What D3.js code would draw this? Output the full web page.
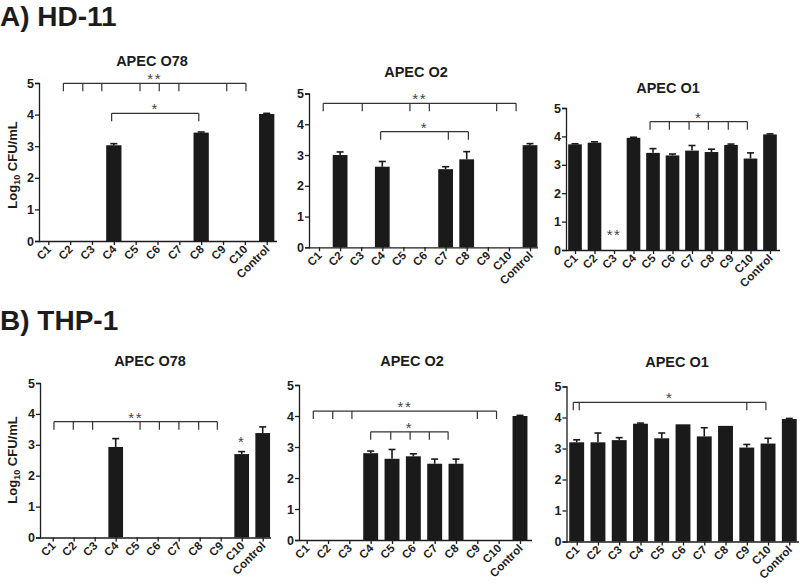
<!DOCTYPE html>
<html><head><meta charset="utf-8">
<script src="https://cdn.jsdelivr.net/npm/d3@7"></script>
<style>body{margin:0;background:#fff}</style>
</head><body><svg id="c" width="800" height="586"></svg>
<script>
// ---------- DATA ----------
const categories = ["C1","C2","C3","C4","C5","C6","C7","C8","C9","C10","Control"];
const yTicks = [0,1,2,3,4,5];
const sectionTitles = ["A) HD-11","B) THP-1"];
const panelTitles = ["APEC O78","APEC O2","APEC O1","APEC O78","APEC O2","APEC O1"];
const yAxisLabel = ["Log", "10", " CFU/mL"];

// means (Log10 CFU/mL) and SEM
const hd11_O78     = [0,0,0,3.03,0,0,0,3.43,0,0,4.02];
const hd11_O78_err = [0,0,0,0.05,0,0,0,0.02,0,0,0.02];
const hd11_O2      = [0,3.0,0,2.62,0,0,2.54,2.86,0,0,3.32];
const hd11_O2_err  = [0,0.1,0,0.17,0,0,0.08,0.25,0,0,0.05];
const hd11_O1      = [3.72,3.78,0,3.95,3.42,3.33,3.5,3.45,3.7,3.22,4.07];
const hd11_O1_err  = [0.02,0.03,0,0.02,0.15,0.05,0.18,0.1,0.03,0.2,0.02];
const thp1_O78     = [0,0,0,2.93,0,0,0,0,0,2.7,3.38];
const thp1_O78_err = [0,0,0,0.27,0,0,0,0,0,0.08,0.2];
const thp1_O2      = [0,0,0,2.8,2.62,2.7,2.46,2.46,0,0,4.0];
const thp1_O2_err  = [0,0,0,0.07,0.3,0.08,0.15,0.15,0,0,0.02];
const thp1_O1      = [3.2,3.2,3.27,3.8,3.33,3.78,3.39,3.73,3.03,3.16,3.95];
const thp1_O1_err  = [0.08,0.3,0.08,0.02,0.17,0,0.28,0,0.1,0.17,0.02];

// significance brackets: label, level (Log10 units), tick positions (category index units)
const hd11_O78_sig = [["**",4.99,[0.69,1.58,2.45,4.2,5.08,5.98,8.17,9.05]],["*",4.04,[2.9,6.89]]];
const hd11_O2_sig  = [["**",4.68,[0.2,2.05,4.31,5.23,8.42,9.34]],["*",3.76,[2.92,6.13,7.08]]];
const hd11_O1_sig  = [["*",4.52,[3.85,4.84,5.85,6.84,7.86,8.84]]];
const thp1_O78_sig = [["**",3.75,[0.06,0.98,1.9,4.16,5.08,6.01,6.95,7.84]]];
const thp1_O2_sig  = [["**",4.16,[0.31,1.22,2.12,8.0,8.9]],["*",3.49,[3.0,3.94,4.85,5.75,6.63]]];
const thp1_O1_sig  = [["*",4.49,[-0.16,0.12,8.0,8.9]]];
// lone significance marks: label, category index, level
const hd11_O1_marks  = [["**",2,0.61]];
const thp1_O78_marks = [["*",9,3.16]];

// ---------- LAYOUT ----------
const svg = d3.select("#c");
const FONT = "Liberation Sans, Arial, sans-serif";
const INK = "#1c1c1c";

svg.append("text").attr("x",0).attr("y",26).text(sectionTitles[0])
  .attr("font-family",FONT).attr("font-weight","bold").attr("font-size",28).attr("fill",INK);
svg.append("text").attr("x",0).attr("y",330).text(sectionTitles[1])
  .attr("font-family",FONT).attr("font-weight","bold").attr("font-size",28).attr("fill",INK);

const panels = [
  {v:hd11_O78,e:hd11_O78_err,s:hd11_O78_sig,m:[],     x0:39,  x1:277, c1:48.3, cN:266.7,y0:241,  y5:83,   tx:152, ty:66,  yl:true, ly:165},
  {v:hd11_O2, e:hd11_O2_err, s:hd11_O2_sig, m:[],     x0:309, x1:538, c1:319,  cN:530,  y0:247.3,y5:93.5, tx:416, ty:77,  yl:false},
  {v:hd11_O1, e:hd11_O1_err, s:hd11_O1_sig, m:hd11_O1_marks, x0:566, x1:780, c1:575, cN:770, y0:250, y5:108, tx:668, ty:93, yl:false},
  {v:thp1_O78,e:thp1_O78_err,s:thp1_O78_sig,m:thp1_O78_marks,x0:40, x1:271, c1:52.7, cN:262.7,y0:537.5,y5:383, tx:150, ty:366, yl:true, ly:460},
  {v:thp1_O2, e:thp1_O2_err, s:thp1_O2_sig, m:[],     x0:299, x1:532, c1:306.7,cN:520,  y0:540,  y5:385,  tx:412, ty:366, yl:false},
  {v:thp1_O1, e:thp1_O1_err, s:thp1_O1_sig, m:[],     x0:566.5,x1:799,c1:576.7,cN:789.3,y0:541.5,y5:386.5,tx:677, ty:367, yl:false}
];

panels.forEach((p,pi)=>{
  const g = svg.append("g");
  const x = d3.scalePoint().domain(categories).range([p.c1,p.cN]);
  const xi = d3.scaleLinear().domain([0,categories.length-1]).range([p.c1,p.cN]);
  const y = d3.scaleLinear().domain([0,5]).range([p.y0,p.y5]);
  const bw = x.step()*0.7;

  g.append("text").attr("x",p.tx).attr("y",p.ty).attr("text-anchor","middle")
    .attr("font-family",FONT).attr("font-weight","bold").attr("font-size",14.5).attr("fill",INK)
    .text(panelTitles[pi]);

  // bars
  const data = categories.map((c,i)=>({c,v:p.v[i],e:p.e[i]}));
  g.selectAll("rect.bar").data(data.filter(d=>d.v>0)).join("rect")
    .attr("x",d=>x(d.c)-bw/2).attr("width",bw)
    .attr("y",d=>y(d.v)).attr("height",d=>y(0)-y(d.v))
    .attr("fill","#1a1a1a");
  // error bars (upper only)
  const eb = data.filter(d=>d.v>0 && d.e>0);
  g.selectAll("line.eb").data(eb).join("line")
    .attr("x1",d=>x(d.c)).attr("x2",d=>x(d.c))
    .attr("y1",d=>y(d.v)).attr("y2",d=>y(d.v+d.e))
    .attr("stroke","#1a1a1a").attr("stroke-width",1.6);
  g.selectAll("line.cap").data(eb).join("line")
    .attr("x1",d=>x(d.c)-3.5).attr("x2",d=>x(d.c)+3.5)
    .attr("y1",d=>y(d.v+d.e)).attr("y2",d=>y(d.v+d.e))
    .attr("stroke","#1a1a1a").attr("stroke-width",1.6);

  // y axis
  const ya = g.append("g").attr("transform",`translate(${p.x0},0)`)
    .call(d3.axisLeft(y).tickValues(yTicks).tickSize(4).tickFormat(d3.format("d")));
  ya.select(".domain").attr("stroke",INK).attr("stroke-width",1.3);
  ya.selectAll(".tick line").attr("stroke",INK).attr("stroke-width",1.3);
  ya.selectAll(".tick text").attr("font-family",FONT).attr("font-weight","bold")
    .attr("font-size",12.5).attr("fill",INK).attr("x",-5);

  // x axis
  const xa = g.append("g").attr("transform",`translate(0,${p.y0})`)
    .call(d3.axisBottom(x).tickSize(4).tickSizeOuter(0));
  xa.select(".domain").attr("d",`M${p.x0},0.5H${p.x1}`).attr("stroke",INK).attr("stroke-width",1.3);
  xa.selectAll(".tick line").attr("stroke",INK).attr("stroke-width",1.3);
  xa.selectAll(".tick text").attr("font-family",FONT).attr("font-weight","bold")
    .attr("font-size",11.5).attr("fill",INK)
    .attr("text-anchor","end").attr("dy",0).attr("y",0)
    .attr("transform","translate(3,9) rotate(-45)");

  // y label
  if (p.yl) {
    const t = g.append("text").attr("transform",`translate(17,${p.ly}) rotate(-90)`)
      .attr("text-anchor","middle").attr("font-family",FONT).attr("font-weight","bold")
      .attr("font-size",13).attr("fill",INK);
    t.append("tspan").text(yAxisLabel[0]);
    t.append("tspan").text(yAxisLabel[1]).attr("font-size",9).attr("dy",3);
    t.append("tspan").text(yAxisLabel[2]).attr("dy",-3);
  }

  // significance brackets
  p.s.forEach(([lab,lev,ticks])=>{
    const ly = y(lev);
    const xa0 = xi(d3.min(ticks)), xa1 = xi(d3.max(ticks));
    g.append("line").attr("x1",xa0).attr("x2",xa1).attr("y1",ly).attr("y2",ly)
      .attr("stroke","#333").attr("stroke-width",1.2);
    ticks.forEach(t=>{
      g.append("line").attr("x1",xi(t)).attr("x2",xi(t)).attr("y1",ly).attr("y2",ly+8)
        .attr("stroke","#333").attr("stroke-width",1.2);
    });
    g.append("text").attr("x",(xa0+xa1)/2).attr("y",ly+1).attr("text-anchor","middle")
      .attr("font-family",FONT).attr("font-size",15).attr("fill","#444")
      .attr("letter-spacing",1.5).text(lab);
  });
  p.m.forEach(([lab,ci,lev])=>{
    g.append("text").attr("x",xi(ci)).attr("y",y(lev)+7).attr("text-anchor","middle")
      .attr("font-family",FONT).attr("font-size",15).attr("fill","#444")
      .attr("letter-spacing",1.5).text(lab);
  });
});
</script></body></html>
